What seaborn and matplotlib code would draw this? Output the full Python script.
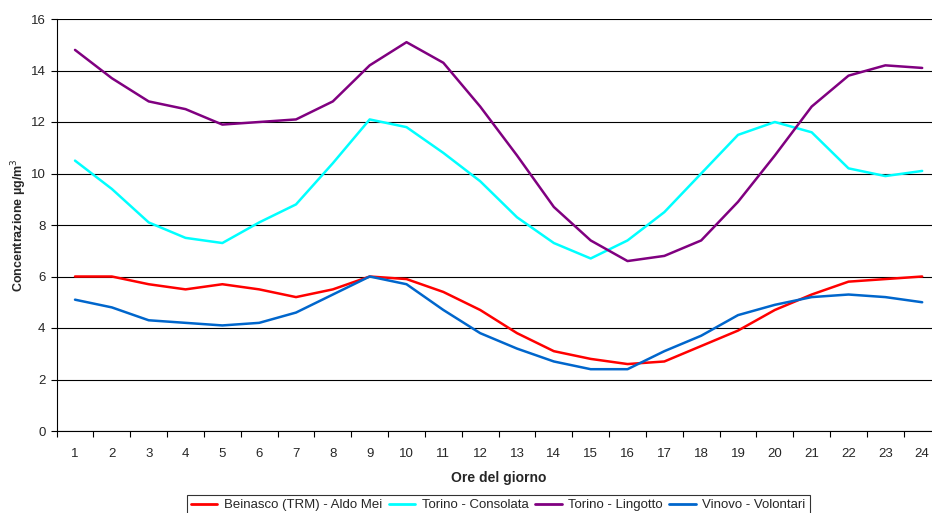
import pandas as pd
import matplotlib.pyplot as plt
from matplotlib.ticker import MultipleLocator
import seaborn as sns

sns.set_style("white")
plt.rcParams['font.family'] = ['Liberation Sans', 'DejaVu Sans']

# Hourly average concentrations (µg/m3)
ore = list(range(1, 25))
beinasco = [6.0, 6.0, 5.7, 5.5, 5.7, 5.5, 5.2, 5.5, 6.0, 5.9, 5.4, 4.7,
            3.8, 3.1, 2.8, 2.6, 2.7, 3.3, 3.9, 4.7, 5.3, 5.8, 5.9, 6.0]
consolata = [10.5, 9.4, 8.1, 7.5, 7.3, 8.1, 8.8, 10.4, 12.1, 11.8, 10.8, 9.7,
             8.3, 7.3, 6.7, 7.4, 8.5, 10.0, 11.5, 12.0, 11.6, 10.2, 9.9, 10.1]
lingotto = [14.8, 13.7, 12.8, 12.5, 11.9, 12.0, 12.1, 12.8, 14.2, 15.1, 14.3, 12.6,
            10.7, 8.7, 7.4, 6.6, 6.8, 7.4, 8.9, 10.7, 12.6, 13.8, 14.2, 14.1]
vinovo = [5.1, 4.8, 4.3, 4.2, 4.1, 4.2, 4.6, 5.3, 6.0, 5.7, 4.7, 3.8,
          3.2, 2.7, 2.4, 2.4, 3.1, 3.7, 4.5, 4.9, 5.2, 5.3, 5.2, 5.0]

stazioni = ["Beinasco (TRM) - Aldo Mei", "Torino - Consolata",
            "Torino - Lingotto", "Vinovo - Volontari"]
colori = ["#FF0000", "#00FFFF", "#800080", "#0066CC"]

df = pd.DataFrame({"ora": ore * 4,
                   "valore": beinasco + consolata + lingotto + vinovo,
                   "stazione": [s for s in stazioni for _ in ore]})

fig = plt.figure(figsize=(9.32, 5.13), dpi=100)
ax = fig.add_axes([56.6 / 932, 82 / 513, (940.6 - 56.6) / 932, 412 / 513])

sns.lineplot(data=df, x="ora", y="valore", hue="stazione", hue_order=stazioni,
             palette=colori, linewidth=1.8, ax=ax)

ax.set_xlim(0.5, 24.5)
ax.set_ylim(0, 16)
ax.yaxis.set_major_locator(MultipleLocator(2))
ax.set_xticks(ore)
ax.set_xticks([o + 0.5 for o in range(0, 25)], minor=True)
ax.grid(axis="y", color="black", linewidth=0.8)
ax.set_axisbelow(True)

for s in ["top", "right"]:
    ax.spines[s].set_visible(False)
for s in ["left", "bottom"]:
    ax.spines[s].set_color("black")
    ax.spines[s].set_linewidth(0.8)

ax.tick_params(axis="y", which="major", direction="out", length=4, width=0.8,
               color="black", labelsize=9.5, left=True, pad=4)
ax.tick_params(axis="x", which="major", length=0, labelsize=9.5, pad=12)
ax.tick_params(axis="x", which="minor", direction="out", length=4, width=0.8,
               color="black", bottom=True)

ax.set_xlabel("Ore del giorno", fontsize=10, fontweight="bold", labelpad=8)
ax.set_ylabel("Concentrazione µg/m$^3$", fontsize=9, fontweight="bold", labelpad=1)

leg = ax.legend(loc="upper left", bbox_to_anchor=(187 / 932, 18 / 513),
                bbox_transform=fig.transFigure, ncol=4, fontsize=9.5,
                frameon=True, fancybox=False, edgecolor="black",
                handlelength=2.0, columnspacing=0.5, handletextpad=0.5,
                borderpad=0.3, borderaxespad=0)
leg.get_frame().set_linewidth(0.8)
for line in leg.get_lines():
    line.set_linewidth(2)

fig.savefig("out.png", dpi=100)
